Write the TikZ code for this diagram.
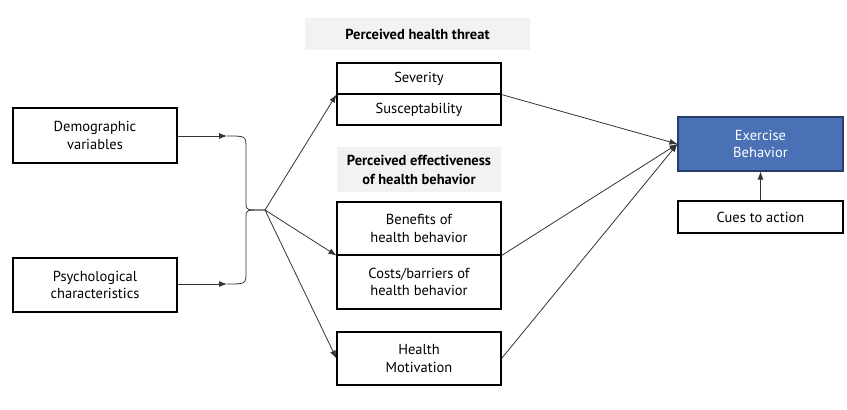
\documentclass[tikz,border=0pt]{standalone}
\usepackage{fontspec}
\setmainfont{PT Sans}
\usepackage{xcolor}
\usetikzlibrary{arrows.meta, calc, positioning}

\definecolor{exblue}{RGB}{74,112,181}
\definecolor{exedge}{RGB}{40,60,110}
\definecolor{headgray}{RGB}{242,242,242}

\tikzset{
  box/.style={draw=black, line width=1.1pt, fill=white, minimum width=164pt, align=center, inner sep=0pt, font=\fontsize{14.5}{17.5}\selectfont},
  head/.style={fill=headgray, align=center, inner sep=0pt, font=\bfseries\fontsize{14.5}{19}\selectfont},
  link/.style={draw=black!80, line width=0.8pt},
  arr/.style={link, -{Latex[length=8pt,width=6pt]}}
}

\begin{document}
\begin{tikzpicture}[x=1pt, y=-1pt]
  \useasboundingbox (0,0) rectangle (847,410);
  % left side
  \node[box, minimum height=55pt] (demo) at (95,135.5) {Demographic\\variables};
  \node[box, minimum height=54pt] (psych) at (95,285) {Psychological\\characteristics};
  \coordinate (dtip) at (227,136);
  \coordinate (ptip) at (227,284);
  \coordinate (hub) at (265,210);
  \draw[arr] (demo.east |- dtip) -- (dtip);
  \draw[arr] (psych.east |- ptip) -- (ptip);
  \draw[link] (dtip) .. controls (246,136) .. (246,148) -- (246,204) .. controls (246,210) .. (hub);
  \draw[link] (ptip) .. controls (246,284) .. (246,272) -- (246,216) .. controls (246,210) .. (hub);
  % middle column
  \node[head, minimum width=225pt, minimum height=32pt] (threat) at (417.5,34) {Perceived health threat};
  \node[box, minimum height=31pt] (sev) at (419,78.5) {Severity};
  \node[box, minimum height=31pt] (sus) at (419,109.5) {Susceptability};
  \node[head, minimum width=164pt, minimum height=45pt] (effect) at (419,169.5) {Perceived effectiveness\\of health behavior};
  \node[box, minimum height=53pt] (ben) at (419,228.5) {Benefits of\\health behavior};
  \node[box, minimum height=54pt] (cost) at (419,282) {Costs/barriers of\\health behavior};
  \node[box, minimum height=53pt] (hm) at (419,358.5) {Health\\Motivation};
  \draw[arr] (hub) -- (sev.south west);
  \draw[arr] (hub) -- (ben.south west);
  \draw[arr] (hub) -- (hm.west);
  % right side
  \node[box, minimum width=165pt, minimum height=54pt, fill=exblue, draw=exedge, text=white] (ex) at (760.5,144) {Exercise\\Behavior};
  \node[box, minimum width=165pt, minimum height=32pt] (cues) at (760.5,217) {Cues to action};
  \draw[arr] (sev.south east) -- (ex.west);
  \draw[arr] (ben.south east) -- (ex.west);
  \draw[arr] (hm.east) -- (ex.west);
  \draw[arr] (cues) -- (ex);
\end{tikzpicture}
\end{document}
